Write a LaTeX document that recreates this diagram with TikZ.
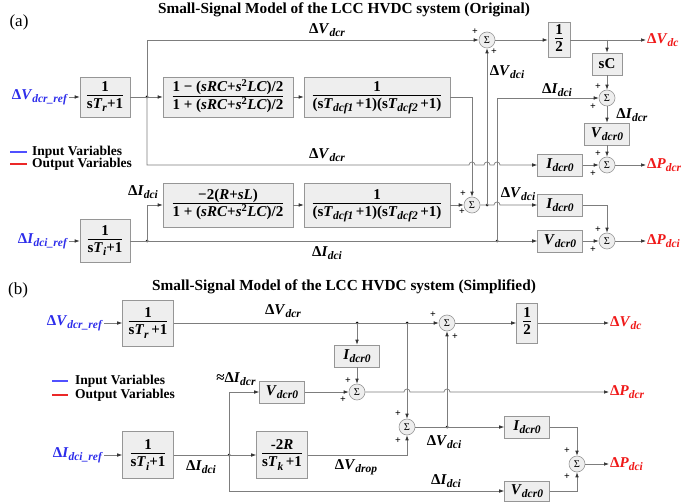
\documentclass[tikz,border=0pt]{standalone}
\usepackage{fontspec}
\setmainfont{Liberation Serif}
\usetikzlibrary{arrows.meta}
\definecolor{lnc}{RGB}{125,125,125}
\definecolor{inblue}{RGB}{45,45,235}
\definecolor{outred}{RGB}{240,25,25}
\definecolor{legblue}{RGB}{80,80,255}
\definecolor{legred}{RGB}{235,40,40}
\definecolor{boxfill}{RGB}{238,238,238}
\definecolor{boxdraw}{RGB}{150,150,150}
\newcommand\lsub[1]{\raisebox{-0.45ex}{\fontsize{11.5}{11.5}\selectfont\textit{#1}}}
\newcommand\sv[3]{#1\textit{#2}\lsub{#3}}
\newcommand\fr[2]{\begin{tabular}{@{}c@{}}#1\\[-1pt]\hline\rule{0pt}{13pt}#2\end{tabular}}
\setlength\arrayrulewidth{0.6pt}
\begin{document}
\begin{tikzpicture}[x=1pt,y=-1pt,
  blk/.style={draw=boxdraw, fill=boxfill, line width=0.6pt, inner sep=1pt, font=\fontsize{15}{16}\selectfont\bfseries, align=center},
  gain/.style={blk, minimum width=45pt, minimum height=22pt},
  sm/.style={circle, draw=boxdraw, fill=boxfill, line width=0.6pt, minimum size=16pt, inner sep=0pt, font=\fontsize{10.5}{10.5}\selectfont},
  wire/.style={draw=lnc, line width=0.7pt},
  arr/.style={wire, -{Latex[length=5pt,width=3.6pt,color=black!80]}},
  lbl/.style={font=\fontsize{15}{16}\selectfont\bfseries, inner sep=1pt},
  inl/.style={lbl, text=inblue},
  outl/.style={lbl, text=outred, anchor=west},
  pl/.style={font=\fontsize{10}{10}\selectfont\bfseries, inner sep=0pt},
  jd/.style={circle, fill=black, inner sep=0pt, minimum size=3pt},
  ttl/.style={font=\fontsize{15.3}{16}\selectfont\bfseries},
  leg/.style={font=\fontsize{13.5}{14}\selectfont\bfseries, anchor=west, inner sep=0pt},
  legb/.style={draw=legblue, line width=1.4pt},
  legr/.style={draw=legred, line width=1.4pt},
  hop/.style={start angle=180, end angle=360, radius=3}
]
\clip (0,0) rectangle (684,502);
\fill[white] (0,0) rectangle (684,502);

% ================= (a) =================
\node[font=\fontsize{17}{17}\selectfont] (pa) at (19,22) {(a)};
\node[ttl] (ta) at (344,10) {Small-Signal Model of the LCC HVDC system (Original)};

\coordinate (lga1) at (10,152); \coordinate (lga2) at (27,152);
\draw[legb] (lga1) -- (lga2);
\node[leg] (lgia) at (32,152) {Input Variables};
\coordinate (lga3) at (10,164); \coordinate (lga4) at (27,164);
\draw[legr] (lga3) -- (lga4);
\node[leg] (lgoa) at (32,164) {Output Variables};

\node[inl, anchor=east] (vra) at (69,97) {\sv{Δ}{V}{dcr\_ref}};
\node[blk, minimum width=50pt, minimum height=40pt] (b1) at (105,97) {\fr{1}{s\textit{T}\lsub{r}+1}};
\node[blk, minimum width=130pt, minimum height=40pt] (b2) at (228,97)
  {\fr{1 − (\textit{sRC}+\textit{s}\textsuperscript{2}\textit{LC})/2}{1 + (\textit{sRC}+\textit{s}\textsuperscript{2}\textit{LC})/2}};
\node[blk, minimum width=146pt, minimum height=40pt] (b3) at (377,97)
  {\fr{1}{(s\textit{T}\lsub{dcf1}\,+1)(s\textit{T}\lsub{dcf2}\,+1)}};
\node[jd] (j1) at (147,97) {};

\node[sm] (s1) at (487,40) {Σ};
\node[blk, minimum width=22pt, minimum height=35pt, inner sep=0pt] (h1) at (559,40) {\fr{1}{2}};
\node[outl] (vdc) at (646,40) {\sv{Δ}{V}{dc}};
\coordinate (c2) at (607,40);
\node[blk, minimum width=30pt, minimum height=22pt] (sc) at (607,64) {sC};
\node[sm] (s2) at (607,98) {Σ};
\node[gain] (v1) at (607,134) {\sv{}{V}{dcr0}};
\node[sm] (s3) at (607,165) {Σ};
\node[gain] (i1) at (560,165) {\sv{}{I}{dcr0}};
\node[outl] (pdcr) at (646,165) {\sv{Δ}{P}{dcr}};

\node[inl, anchor=east] (ira) at (69,241) {\sv{Δ}{I}{dci\_ref}};
\node[blk, minimum width=50pt, minimum height=43pt] (b6) at (105,241) {\fr{1}{s\textit{T}\lsub{i}+1}};
\node[jd] (d1) at (147,241) {};
\node[blk, minimum width=130pt, minimum height=44pt] (b4) at (228,205)
  {\fr{−2(\textit{R}+\textit{sL})}{1 + (\textit{sRC}+\textit{s}\textsuperscript{2}\textit{LC})/2}};
\node[blk, minimum width=146pt, minimum height=44pt] (b5) at (377,205)
  {\fr{1}{(s\textit{T}\lsub{dcf1}\,+1)(s\textit{T}\lsub{dcf2}\,+1)}};
\node[sm] (s4) at (472,205) {Σ};
\node[jd] (d2) at (487,205) {};
\node[jd] (d3) at (497,241) {};
\node[gain] (i2) at (560,205) {\sv{}{I}{dcr0}};
\node[gain] (v2) at (560,241) {\sv{}{V}{dcr0}};
\node[sm] (s5) at (607,241) {Σ};
\node[outl] (pdci) at (646,241) {\sv{Δ}{P}{dci}};

% labels (a)
\node[lbl] (la1) at (327,30) {\sv{Δ}{V}{dcr}};
\node[lbl] (la2) at (327,155) {\sv{Δ}{V}{dcr}};
\node[lbl] (la3) at (507,72) {\sv{Δ}{V}{dci}};
\node[lbl] (la4) at (557,90) {\sv{Δ}{I}{dci}};
\node[lbl] (la5) at (632,115) {\sv{Δ}{I}{dcr}};
\node[lbl] (la6) at (143,192) {\sv{Δ}{I}{dci}};
\node[lbl] (la7) at (518,194) {\sv{Δ}{V}{dci}};
\node[lbl] (la8) at (327,253) {\sv{Δ}{I}{dci}};

% plus signs (a)
\node[pl] at (475,32) {+};
\node[pl] at (494,52) {+};
\node[pl] at (598,87) {+};
\node[pl] at (593,107) {+};
\node[pl] at (598,154) {+};
\node[pl] at (593,174) {+};
\node[pl] at (463,194) {+};
\node[pl] at (462,212) {+};
\node[pl] at (598,230) {+};
\node[pl] at (593,250) {+};

% wires (a)
\draw[arr] (vra.east) -- (b1.west);
\draw[wire] (b1.east) -- (j1.center);
\draw[arr] (j1.center) -- (b2.west);
\draw[arr] (b2) -- (b3);
\draw[arr] (b3.east) -- (472,97) -- (s4.north);
\draw[arr] (j1.center) -- (147,40) -- (s1.west);
\draw[arr] (j1.center) -- (147,165) -- (469,165) arc[hop] -- (484,165) arc[hop] -- (494,165) arc[hop] -- (i1.west);
\draw[arr] (s1) -- (h1);
\draw[arr] (h1) -- (vdc.west);
\draw[arr] (c2) -- (sc.north);
\draw[arr] (sc) -- (s2);
\draw[arr] (s2) -- (v1);
\draw[arr] (v1) -- (s3);
\draw[arr] (i1) -- (s3);
\draw[arr] (s3) -- (pdcr.west);
\draw[arr] (ira.east) -- (b6.west);
\draw[wire] (b6.east) -- (d1.center);
\draw[arr] (d1.center) -- (147,205) -- (b4.west);
\draw[arr] (b4) -- (b5);
\draw[arr] (b5) -- (s4);
\draw[arr] (s4.east) -- (494,205) arc[hop] -- (i2.west);
\draw[arr] (d2.center) -- (s1.south);
\draw[arr] (d1.center) -- (v2.west);
\draw[arr] (d3.center) -- (497,98) -- (s2.west);
\draw[arr] (i2.east) -- (607,205) -- (s5.north);
\draw[arr] (v2) -- (s5);
\draw[arr] (s5) -- (pdci.west);

% ================= (b) =================
\node[font=\fontsize{17}{17}\selectfont] (pb) at (18,290) {(b)};
\node[ttl] (tb) at (344,287) {Small-Signal Model of the LCC HVDC system (Simplified)};

\coordinate (lgb1) at (52,381); \coordinate (lgb2) at (68,381);
\draw[legb] (lgb1) -- (lgb2);
\node[leg] (lgib) at (75,381) {Input Variables};
\coordinate (lgb3) at (52,395); \coordinate (lgb4) at (68,395);
\draw[legr] (lgb3) -- (lgb4);
\node[leg] (lgob) at (75,395) {Output Variables};

\node[inl, anchor=east] (vrb) at (104,323) {\sv{Δ}{V}{dcr\_ref}};
\node[blk, minimum width=51pt, minimum height=46pt] (b7) at (148,323) {\fr{1}{s\textit{T}\lsub{r}\,+1}};
\node[jd] (e1) at (357,323) {};
\node[jd] (e2) at (407,323) {};
\node[sm] (s6) at (447,323) {Σ};
\node[blk, minimum width=21pt, minimum height=40pt, inner sep=0pt] (h2) at (527,323) {\fr{1}{2}};
\node[outl] (vdcb) at (609,323) {\sv{Δ}{V}{dc}};
\node[gain] (i3) at (357,356) {\sv{}{I}{dcr0}};
\node[sm] (s7) at (357,392) {Σ};
\node[gain] (v3) at (282,392) {\sv{}{V}{dcr0}};
\node[outl] (pdcrb) at (609,392) {\sv{Δ}{P}{dcr}};

\node[inl, anchor=east] (irb) at (104,455) {\sv{Δ}{I}{dci\_ref}};
\node[blk, minimum width=51pt, minimum height=47pt] (b8) at (148,455) {\fr{1}{s\textit{T}\lsub{i}+1}};
\node[jd] (e4) at (229,455) {};
\node[blk, minimum width=51pt, minimum height=47pt] (b9) at (282,455) {\fr{-2\textit{R}}{s\textit{T}\lsub{k}\,+1}};
\node[sm] (s8) at (407,427) {Σ};
\node[jd] (e3) at (447,427) {};
\node[gain] (i4) at (527,427) {\sv{}{I}{dcr0}};
\node[sm] (s9) at (577,464) {Σ};
\node[outl] (pdcib) at (609,464) {\sv{Δ}{P}{dci}};
\node[gain, minimum height=20pt] (v4) at (527,491) {\sv{}{V}{dcr0}};

% labels (b)
\node[lbl] (lb1) at (283,311) {\sv{Δ}{V}{dcr}};
\node[lbl] (lb2) at (236,379) {≈\sv{Δ}{I}{dcr}};
\node[lbl] (lb3) at (201,467) {\sv{Δ}{I}{dci}};
\node[lbl] (lb4) at (356,467) {\sv{Δ}{V}{drop}};
\node[lbl] (lb5) at (444,442) {\sv{Δ}{V}{dci}};
\node[lbl] (lb6) at (446,481) {\sv{Δ}{I}{dci}};

% plus signs (b)
\node[pl] at (433,315) {+};
\node[pl] at (455,337) {+};
\node[pl] at (348,381) {+};
\node[pl] at (343,400) {+};
\node[pl] at (398,414) {+};
\node[pl] at (398,441) {+};
\node[pl] at (567,451) {+};
\node[pl] at (567,477) {+};

% wires (b)
\draw[arr] (vrb.east) -- (b7.west);
\draw[arr] (b7.east) -- (s6.west);
\draw[arr] (s6) -- (h2);
\draw[arr] (h2) -- (vdcb.west);
\draw[arr] (e1.center) -- (i3.north);
\draw[arr] (i3) -- (s7);
\draw[arr] (v3) -- (s7);
\draw[arr] (s7.east) -- (404,392) arc[hop] -- (444,392) arc[hop] -- (pdcrb.west);
\draw[arr] (e2.center) -- (s8.north);
\draw[arr] (s8.east) -- (i4.west);
\draw[arr] (e3.center) -- (s6.south);
\draw[arr] (i4.east) -- (577,427) -- (s9.north);
\draw[arr] (s9) -- (pdcib.west);
\draw[arr] (irb.east) -- (b8.west);
\draw[arr] (b8.east) -- (b9.west);
\draw[arr] (b9.east) -- (407,455) -- (s8.south);
\draw[arr] (e4.center) -- (229,392) -- (v3.west);
\draw[arr] (e4.center) -- (229,491) -- (v4.west);
\draw[arr] (v4.east) -- (577,491) -- (s9.south);
\end{tikzpicture}
\end{document}
